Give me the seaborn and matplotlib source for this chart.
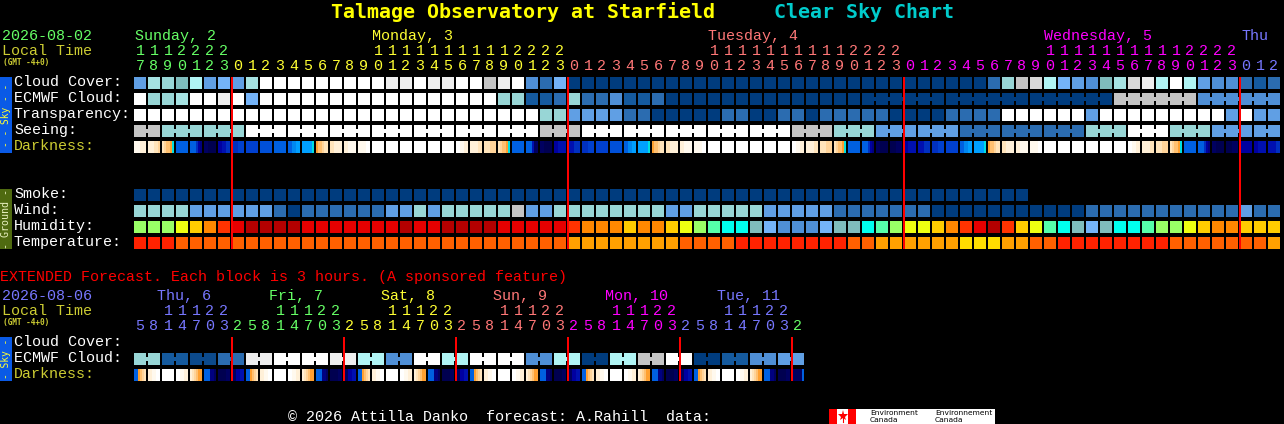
import numpy as np
import matplotlib
matplotlib.use("Agg")
import matplotlib.pyplot as plt
from matplotlib.colors import ListedColormap
from matplotlib.patches import Rectangle
import seaborn as sns

W, H = 1284, 424
plt.rcParams["font.family"] = ["Liberation Mono", "DejaVu Sans Mono"]

# block colours, sky scale first, then humidity, temperature and darkness levels
palette = {
    "B0": "#003c7e", "B1": "#0c4a8c", "B2": "#155a9e", "B3": "#2b6cb0", "B4": "#4f8fd6",
    "B5": "#609fe4", "B6": "#74b3f8", "T1": "#7fbcbc", "T2": "#98d6d6", "T3": "#a5e2e2",
    "T4": "#b0f4f4", "W": "#ffffff", "G1": "#eeeeee", "G2": "#d8d8d8", "G3": "#c4c4c4",
    "lime": "#99ff66", "yel": "#eeff11", "amb": "#ffcc00", "org": "#ff8800", "rdo": "#ff3300",
    "red": "#e60000", "drk": "#b30000", "mnt": "#55ffaa", "cyn": "#00ffee",
    "tr": "#ff2200", "to": "#ff6000", "ta": "#ffa000", "ty": "#ffdd00",
    "Dw": "#ffffff", "Di": "#fff9ee", "Dc": "#fff0d8", "Dd": "#ffe4bb", "De": "#ffd49a",
    "Df": "#ffc070", "Dg": "#ffa030", "DC": "#00e0e0", "Dk": "#00a0ff", "Dl": "#0088f0",
    "Dm": "#0060e0", "Dn": "#0050d8", "Do": "#0040d0", "Dp": "#0030c0", "Dq": "#0010b0",
    "Dr": "#0000a0", "Ds": "#000080", "Dt": "#000060", "Du": "#000050",
}
codes = {name: k for k, name in enumerate(palette)}

# hourly forecast, one entry per block
hours = [17, 18, 19, 20, 21, 22, 23] + list(range(24)) * 3 + [0, 1, 2]
cloud_cover = """B5 T3 T2 T1 T4 B5 B6 B5 T3 W W W W W W W W W G1 G1 W G1 G1 W W G3 G1 W B4 B3 B6
B0 B0 B0 B0 B0 B0 B0 B0 B0 B0 B0 B0 B0 B0 B0 B0 B0 B0 B0 B0 B0 B0 B0 B0 B0 B0 B0 B0 B0 B0
B3 T2 G3 G2 T4 B6 B5 B4 T1 T3 G2 G1 T4 W T4 B5 B4 B4 B3 B2 B3""".split()
# first 52 blocks are single hours, the rest are 6 hour groups
ecmwf_names = """W T2 T2 T3 W W G1 W B6 W W W W W W W W W W W W W W W W W T2 T2 B2 B2 B3 T2
B3 B3 B4 B2 B2 B3 B0 B0 B0 B0 B0 B0 B0 B0 B0 B0 B0 B0 B0 B0
B0 B0 B0 G3 B4""".split()
ecmwf_sizes = [1] * 52 + [6] * 5
transparency = """W W W W W W W W W W W W W W W W W W W W W W W W W W W W W T2 T2
B5 B5 B5 B5 B3 B3 B0 B0 B0 B0 B0 B3 B3 B0 B0 B3 B3 B0 B3 B3 B3 B3 B3 B0 B0 B0 B0 B3 B3 B3 B3
W W W W W W B5 W W W W W W W W W B5 W B5 B5""".split()
seeing_groups = """G3 T2 T2 W W W W W W W G3 W W W W W G3 T2 B5 B5 B3 B3 B3 T2 W T2 B5 B5""".split()
seeing_sizes = [2] + [3] * 26 + [2]
darkness = """iiiccc cccdde deffgC mmmmmm mmmprs ttuuuu rrqqpp pppooo oooooo nnnnnn mmmmmm mmllkk kkkkkC
gffedd ddcccc cciiii iiiiww wwwwww wwwwww wwwwww wwwwww wwwwww wwwwww wwiicc ccccdd dddeee
deffgC mmmmmm mmmqtt ttuuuu rrqqqq qqqppp pppooo oooooo nnnnnn mmllkk kkkkkC gffedd ddcccc
cciiii iiiiww wwwwww wwwwww wwwwww wwwwww wwwwww wwwwww wwiicc ccccdd dddeee deffgC mmmmmm
mmmprs ttuuuu uuuttt rrqqqq qqqppp pppooo oooooo mmllkk kkkkkC gffedd ddcccc cciiii iiiiww
wwwwww wwwwww wwwwww wwwwww wwwwww wwwwww wwiicc ccccdd dddeee deffgC mmmmmm mmmprs ttuuuu
uuuttt rrrrrr rrqqqq qqqqpp""".split()
smoke = ["B0"] * 64
wind = """T2 T2 T2 T2 B5 B5 B5 B5 B5 B5 B3 B0 B3 B3 B3 B3 B3 B3 B5 B5 T2 B5 T2 T2 T2 T2 T2 G3 B5 B5 T2
T2 T2 T2 T2 T2 T2 T2 B5 B5 T2 T2 T2 T2 T2 B5 B5 B5 B5 B5 B3 B3 B3 B3 B3 B3 B3 B0 B0 B0 B0 B0
B0 B0 B0 B0 B0 B0 B3 B3 B3 B3 B3 B3 B3 B3 B3 B3 B3 B5 B3 B3""".split()
humidity = """lime lime lime yel amb org rdo red drk drk drk drk red red red red red red red drk red
red drk drk drk drk red red red red red rdo org org org amb org org amb yel lime mnt cyn cyn
T1 B6 B4 B4 B4 B6 T1 T1 cyn mnt lime yel yel amb org rdo red drk rdo amb yel mnt cyn T1 B6 T1
cyn cyn mnt lime lime yel amb org org amb amb amb""".split()
temperature = """tr tr tr to to to to to to to to to to to to to to to to to to to to to to to to to to to to
ta ta ta ta ta ta ta ta to to to to tr tr tr tr tr tr tr tr to to ta ta ta ta ta ta ty ty ty
ta ta to to tr tr tr tr tr tr tr tr to to to to to to to ta""".split()

# extended forecast, one entry per 3 hour block
ext_hours = [5, 8, 11, 14, 17, 20, 23] + [2, 5, 8, 11, 14, 17, 20, 23] * 5 + [2]
ext_ecmwf_groups = "T2 B2 B1 B3 G1 W W G1 T4 B4 W T4 W W B4 T4 B0 T4 G3 W B0 B2 B4 B5".split()
ext_darkness = """mmgfed cciiww wwwwww wwiicc cdefgg mmmsst uuuutt ttrrqq
mmgfed cciiww wwwwww wwiicc cdefgg mmmsst uuuutt ttrrqq
mmgfed cciiww wwwwww wwiicc cdefgg mmmsst uuuutt ttrrqq
mmgfed cciiww wwwwww wwiicc cdefgg mmmsst uuuutt ttrrqq
mmgfed cciiww wwwwww wwiicc cdefgg mmmsst uuuutt ttrrqq
mmgfed cciiww wwwwww wwiicc cdefgg mmmsst uuuutt tttttm""".split()

day_labels = ["Sunday, 2", "Monday, 3", "Tuesday, 4", "Wednesday, 5", "Thu"]
day_colors = ["#66ff66", "#ffff33", "#ff7777", "#ff00ff", "#7777ff"]
ext_day_labels = ["Thu, 6", "Fri, 7", "Sat, 8", "Sun, 9", "Mon, 10", "Tue, 11"]
ext_day_colors = ["#7777ff", "#66ff66", "#ffff33", "#ff7777", "#ff00ff", "#7777ff", "#66ff66"]
sky_labels = ["Cloud Cover:", "ECMWF Cloud:", "Transparency:", "Seeing:"]
ground_labels = ["Smoke:", "Wind:", "Humidity:", "Temperature:"]

cmap = ListedColormap(list(palette.values()))
OLIVE = "#cccc33"


def put_row(mat, row, names, sizes=None):
    # each block is 6 columns wide + 1 gap column, 3 rows high + 1 gap row
    top = row * 4
    for i, name in enumerate(names):
        mat[top:top + 3, i * 7:i * 7 + 6] = codes[name]
    if sizes is not None:
        start = 0
        for size in sizes:
            for i in range(start, start + size - 1):
                mat[top + 1, i * 7 + 6] = codes[names[i]]
            start += size


def put_dark(mat, row, cells):
    top = row * 4
    for i, cell in enumerate(cells):
        for j, ch in enumerate(cell):
            mat[top:top + 3, i * 7 + j] = codes["D" + ch]


def panel(fig, mat, left, top):
    rows, cols = mat.shape
    ax = fig.add_axes([left / W, 1 - (top + rows * 4) / H, cols * 2 / W, rows * 4 / H])
    sns.heatmap(mat, ax=ax, cmap=cmap, vmin=-0.5, vmax=len(palette) - 0.5, cbar=False,
                xticklabels=False, yticklabels=False)
    ax.set_facecolor("black")
    return ax


def midnights(hrs):
    return [i for i in range(1, len(hrs)) if hrs[i] < hrs[i - 1]]


def hour_digits(ax, hrs, colors, y_tens, y_ones):
    day = 0
    for i, h in enumerate(hrs):
        if i > 0 and h < hrs[i - 1]:
            day += 1
        x = 140 + 14 * i
        if h >= 10:
            ax.text(x, y_tens + 1, str(h // 10), color=colors[day], fontsize=10.8, ha="center", va="center")
        ax.text(x, y_ones + 1, str(h % 10), color=colors[day], fontsize=10.8, ha="center", va="center")


fig = plt.figure(figsize=(W / 100, H / 100), dpi=100, facecolor="black")

# main panel
main = np.full((44, len(hours) * 7), np.nan)
put_row(main, 0, cloud_cover)
put_row(main, 1, list(np.repeat(ecmwf_names, ecmwf_sizes)), ecmwf_sizes)
put_row(main, 2, transparency)
put_row(main, 3, list(np.repeat(seeing_groups, seeing_sizes)), seeing_sizes)
put_dark(main, 4, darkness)
put_row(main, 7, smoke)
put_row(main, 8, wind)
put_row(main, 9, humidity)
put_row(main, 10, temperature)
ax_main = panel(fig, main, 134, 77)
ax_main.vlines(np.array(midnights(hours)) * 7, 0, 43, color="#ff0000", lw=1.44)

# extended panel
ext = np.full((12, len(ext_hours) * 7), np.nan)
put_row(ext, 1, list(np.repeat(ext_ecmwf_groups, 2)), [2] * 24)
put_dark(ext, 2, ext_darkness)
ax_ext = panel(fig, ext, 134, 337)
ax_ext.vlines(np.array(midnights(ext_hours)) * 7, 0, 11, color="#ff0000", lw=1.44)

# everything else sits on a full figure axes in pixel units
ov = fig.add_axes([0, 0, 1, 1], facecolor="none")
ov.set_xlim(0, W)
ov.set_ylim(H, 0)
ov.axis("off")


def label(x, y, s, color="white", size=10.8, **kw):
    ov.text(x, y + 1, s, color=color, fontsize=size, va="center", **kw)


label(331, 11, "Talmage Observatory at Starfield", "#ffff00", 14.4, fontweight="bold", family="DejaVu Sans Mono")
label(774, 11, "Clear Sky Chart", "#00cccc", 14.4, fontweight="bold", family="DejaVu Sans Mono")

label(2, 35, "2026-08-02", "#66ff66")
label(2, 50, "Local Time", OLIVE)
label(3, 61, "(GMT -4+0)", OLIVE, 5.6, fontweight="bold", family="DejaVu Sans Mono")
for x, s, c in zip([135, 372, 708, 1044, 1241], day_labels, day_colors):
    label(x, 35, s, c)
hour_digits(ov, hours, day_colors, 50, 65)

for i, s in enumerate(sky_labels):
    label(14, 81 + 16 * i, s)
label(14, 145, "Darkness:", OLIVE)
for i, s in enumerate(ground_labels):
    label(14, 193 + 16 * i, s)

ov.add_patch(Rectangle((0, 77), 12, 76, color="#0a5ae6", lw=0))
ov.add_patch(Rectangle((0, 189), 12, 60, color="#4f6a10", lw=0))
ov.add_patch(Rectangle((0, 337), 12, 44, color="#0a5ae6", lw=0))
ov.text(6, 115, "- - Sky - -", color="#ffff33", fontsize=6.9, rotation=90, ha="center", va="center", family="DejaVu Sans Mono")
ov.text(6, 219, "- Ground -", color="#e8f0c0", fontsize=7.2, rotation=90, ha="center", va="center", family="DejaVu Sans Mono")
ov.text(6, 359, "- Sky -", color="#ffff33", fontsize=6.9, rotation=90, ha="center", va="center", family="DejaVu Sans Mono")

label(0, 276, "EXTENDED Forecast. Each block is 3 hours. (A sponsored feature)", "#ff0000")
label(2, 295, "2026-08-06", "#7777ff")
label(2, 310, "Local Time", OLIVE)
label(3, 321, "(GMT -4+0)", OLIVE, 5.6, fontweight="bold", family="DejaVu Sans Mono")
for k, (s, c) in enumerate(zip(ext_day_labels, ext_day_colors)):
    label(157 + 112 * k, 295, s, c)
hour_digits(ov, ext_hours, ext_day_colors, 310, 325)
label(14, 341, "Cloud Cover:")
label(14, 357, "ECMWF Cloud:")
label(14, 373, "Darkness:", OLIVE)

label(288, 416, "© 2026 Attilla Danko  forecast: A.Rahill  data:")

# Environment Canada logo
ov.add_patch(Rectangle((829, 409), 166, 15, color="white", lw=0))
ov.add_patch(Rectangle((829, 409), 8, 15, color="#ff0000", lw=0))
ov.add_patch(Rectangle((848, 409), 8, 15, color="#ff0000", lw=0))
ov.plot([842.5], [415.5], marker="*", ms=8, color="#ff0000", mew=0)
ov.plot([842.5, 842.5], [416, 422], color="#ff0000", lw=0.8)
for x, s in [(870, "Environment"), (935, "Environnement")]:
    ov.text(x, 413, s, color="black", fontsize=5.4, family="DejaVu Sans", va="center")
    ov.text(x, 420, "Canada", color="black", fontsize=5.4, family="DejaVu Sans", va="center")

fig.savefig("out.png", dpi=100, facecolor="black")
